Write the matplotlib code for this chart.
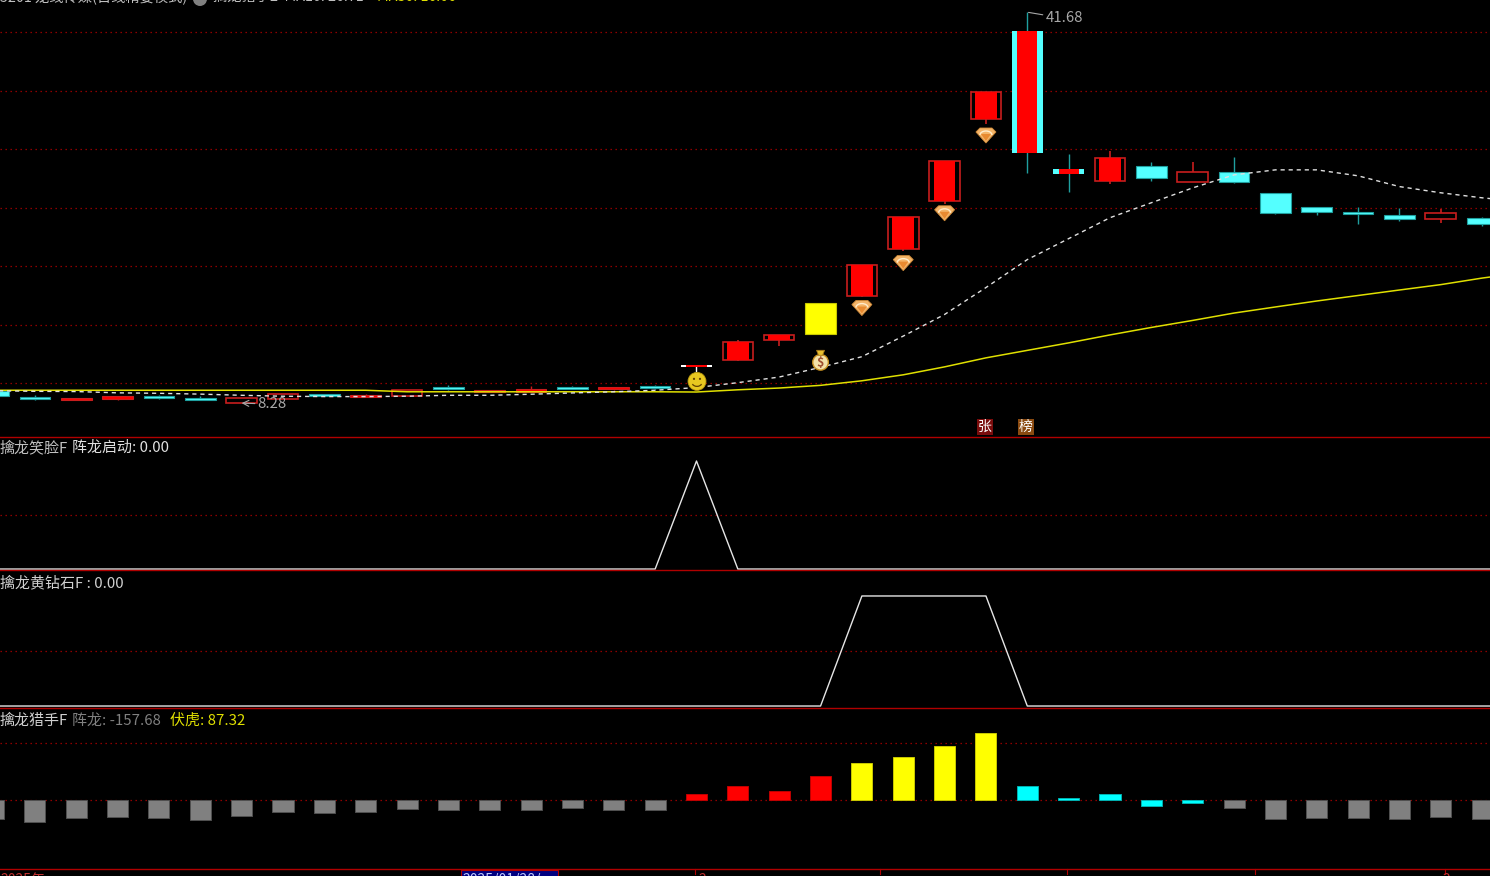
import matplotlib
matplotlib.use("Agg")
import matplotlib.pyplot as plt
from matplotlib.patches import Circle, Polygon, Rectangle, Arc

plt.rcParams['font.family'] = ['Noto Sans CJK SC', 'DejaVu Sans']
plt.rcParams['lines.scale_dashes'] = False

# bar index, first one is cut by the left edge
idx = list(range(-1, 36))
idx_ma = list(range(-1, 37))

tops = [9.29, 8.78, 8.76, 8.87, 8.87, 8.76, 8.72, 9.10, 9.10, 8.98, 9.38, 9.63, 9.38, 9.52, 9.63, 9.63, 9.72,
        11.51, 13.53, 14.09, 16.85, 20.12, 24.21, 28.99, 34.84, 40.07, 28.28, 29.22, 28.58, 28.02, 28.02,
        26.23, 25.06, 24.64, 24.32, 24.53, 24.10]
bottoms = [8.87, 8.64, 8.53, 8.64, 8.72, 8.53, 8.33, 8.67, 8.93, 8.84, 8.89, 9.49, 9.27, 9.27, 9.49, 9.49, 9.57,
           11.40, 12.00, 13.67, 14.21, 17.48, 21.48, 25.57, 32.57, 29.67, 27.90, 27.31, 27.51, 27.22, 27.22,
           24.53, 24.64, 24.44, 24.01, 24.01, 23.55]
highs = [9.29, 8.95, 8.76, 8.87, 8.98, 8.89, 8.72, 9.10, 9.10, 9.06, 9.38, 9.80, 9.38, 9.72, 9.74, 9.63, 9.83,
         11.51, 13.67, 14.09, 16.85, 20.12, 24.21, 28.99, 34.84, 41.68, 29.56, 29.86, 28.90, 28.90, 29.33,
         26.23, 25.06, 25.06, 24.95, 24.87, 24.21]
lows = [8.87, 8.53, 8.53, 8.53, 8.64, 8.53, 8.28, 8.67, 8.93, 8.84, 8.89, 9.40, 9.27, 9.27, 9.49, 9.38, 9.49,
        10.97, 11.88, 13.15, 14.21, 17.31, 21.31, 25.32, 32.11, 27.94, 26.37, 27.02, 27.28, 27.22, 27.11,
        24.41, 24.32, 23.55, 23.87, 23.70, 23.38]
kinds = ['c', 'c', 'r', 'r', 'c', 'c', 'h', 'h', 'c', 'r', 'h', 'c', 'r', 'r', 'c', 'r', 'c',
         'w', 'R', 'R', 'y', 'R', 'R', 'R', 'R', 'b', 'b', 'R', 'c', 'h', 'c', 'c', 'c', 'c', 'c', 'h', 'c']

ma_white = [9.34, 9.29, 9.27, 9.16, 9.12, 9.05, 8.95, 8.87, 8.84, 8.84, 8.87, 8.95, 8.95, 9.04, 9.15, 9.25, 9.38,
            9.61, 10.03, 10.51, 11.34, 12.25, 14.01, 15.86, 18.16, 20.55, 22.34, 24.13, 25.41, 26.68, 27.79,
            28.22, 28.22, 27.71, 26.79, 26.26, 25.83, 25.49]
ma_yellow = [9.38, 9.38, 9.38, 9.38, 9.38, 9.38, 9.38, 9.38, 9.38, 9.38, 9.25, 9.25, 9.25, 9.25, 9.25, 9.25, 9.25,
             9.23, 9.42, 9.57, 9.80, 10.19, 10.70, 11.38, 12.15, 12.79, 13.43, 14.11, 14.75, 15.35, 15.98,
             16.50, 17.01, 17.48, 17.95, 18.41, 18.97, 19.44]
price_grid = [10, 15, 20, 25, 30, 35, 40]

smile_flag = [0] * 17 + [1] + [0] * 20
diamond_flag = [0] * 21 + [1, 1, 1, 1] + [0] * 13

hunter = [-158, -180, -150, -136, -150, -161, -128, -98, -109, -98, -71, -79, -79, -79, -68, -79, -79,
          47, 117, 76, 199, 300, 351, 444, 545, 117, 14, 47, -47, -27, -68, -158, -150, -150, -158, -139, -158]
hunter_kinds = ['g'] * 17 + ['r'] * 4 + ['y'] * 4 + ['c'] * 5 + ['g'] * 7
hunter_grid = [0, 468]

time_ticks = [695, 880, 1067, 1255, 1445]

RED = "#ff0000"
RIM = "#c81e1e"
CYAN = "#54ffff"
TEAL = "#1f9f9f"
GRID = "#a00000"
W, H = 1490, 876


def panel(top, bottom, ymin, ymax):
    ax = fig.add_axes([0, 1 - bottom / H, 1, (bottom - top) / H])
    ax.set_xlim(-0.844, 35.19)
    ax.set_ylim(ymin, ymax)
    ax.axis('off')
    return ax


def hgrid(ax, vals):
    for v in vals:
        ax.axhline(v, color=GRID, lw=0.9, ls=(0, (1.0, 2.6)), zorder=1)


def diamond(cx, cy):
    ov.add_patch(Polygon([(cx - 10, cy - 3), (cx - 6, cy - 7), (cx + 6, cy - 7), (cx + 10, cy - 3), (cx, cy + 8)],
                         fc="#f4b468", ec="#d08a38", lw=0.6, zorder=9))
    ov.add_patch(Polygon([(cx - 5, cy - 1), (cx + 5, cy - 1), (cx, cy + 6)], fc="#e88a30", ec="none", zorder=10))
    ov.add_patch(Arc((cx, cy), 12, 8, theta1=180, theta2=360, color="#ffeccc", lw=1, zorder=11))


fig = plt.figure(figsize=(14.9, 8.76), dpi=100, facecolor="black")

# main candles
main = panel(0, 436, 5.47, 42.74)
hgrid(main, price_grid)
for i, t, b, hi, lo, k in zip(idx, tops, bottoms, highs, lows, kinds):
    if k == 'c':
        main.vlines(i, lo, hi, color=TEAL, lw=1, zorder=2)
        main.bar(i, t - b, bottom=b, width=0.74, color=CYAN, edgecolor=TEAL, lw=0.8, zorder=3)
    elif k == 'r':
        main.vlines(i, lo, hi, color=RIM, lw=1, zorder=2)
        main.bar(i, t - b, bottom=b, width=0.74, color=RED, edgecolor=RIM, lw=0.8, zorder=3)
    elif k == 'h':
        main.vlines(i, lo, hi, color=RIM, lw=1.2, zorder=2)
        main.bar(i, t - b, bottom=b, width=0.74, color="black", edgecolor=RIM, lw=1.2, zorder=3)
    elif k == 'R':
        main.vlines(i, lo, hi, color=RIM, lw=1.2, zorder=2)
        main.bar(i, t - b, bottom=b, width=0.74, color="black", edgecolor=RIM, lw=1.2, zorder=3)
        main.bar(i, t - b, bottom=b, width=0.52, color=RED, zorder=4)
    elif k == 'y':
        main.bar(i, t - b, bottom=b, width=0.74, color="#ffff00", edgecolor="#c8c800", lw=0.8, zorder=3)
    elif k == 'b':
        main.vlines(i, lo, hi, color=TEAL, lw=1, zorder=2)
        main.bar(i, t - b, bottom=b, width=0.74, color=CYAN, zorder=3)
        main.bar(i, t - b, bottom=b, width=0.49, color=RED, zorder=4)
    elif k == 'w':
        main.vlines(i, lo, hi, color="white", lw=1, zorder=2)
        main.bar(i, t - b, bottom=b, width=0.74, color="white", zorder=3)
        main.bar(i, t - b, bottom=b, width=0.5, color=RED, zorder=4)

main.plot(idx_ma, ma_yellow, color="#e0e000", lw=1.1, zorder=5)
main.plot(idx_ma, ma_white, color="#e0e0e0", lw=1, ls=(0, (3, 2.8)), zorder=6)

main.annotate("41.68", xy=(24.03, 41.68), xytext=(17, -6), textcoords='offset pixels', color="#a8a8a8",
              fontsize=10.8, va='center', ha='left', zorder=8,
              arrowprops=dict(arrowstyle='-', color="#a8a8a8", lw=0.8, shrinkA=0, shrinkB=0))
main.annotate("8.28", xy=(5, 8.28), xytext=(16, -1), textcoords='offset pixels', color="#a8a8a8",
              fontsize=10.8, va='center', ha='left', zorder=8,
              arrowprops=dict(arrowstyle='->', color="#a8a8a8", lw=0.8, shrinkA=0, shrinkB=0))

# sub panels
p1 = panel(437, 570, -0.009, 1.222)
hgrid(p1, [0.5])
p1.plot(idx_ma, smile_flag, color="#e6e6e6", lw=1, zorder=3)

p2 = panel(571, 708, -0.018, 1.227)
hgrid(p2, [0.5])
p2.plot(idx_ma, diamond_flag, color="#e6e6e6", lw=1, zorder=3)

p3 = panel(709, 869, -564, 743)
hgrid(p3, hunter_grid)
bar_cols = {'g': "#808080", 'r': RED, 'y': "#ffff00", 'c': "#00ffff"}
edge_cols = {'g': "#505050", 'r': "#c00000", 'y': "#c8c800", 'c': "#00b0b0"}
p3.bar(idx, hunter, width=0.51, color=[bar_cols[k] for k in hunter_kinds],
       edgecolor=[edge_cols[k] for k in hunter_kinds], lw=0.7, zorder=3)

# overlay in pixels: frames, captions, icons
ov = fig.add_axes([0, 0, 1, 1])
ov.set_xlim(0, W)
ov.set_ylim(H, 0)
ov.axis('off')
ov.patch.set_alpha(0)

for y in [436.5, 570, 708, 869]:
    ov.axhline(y, color="#b00000", lw=1)
for x in time_ticks:
    ov.plot([x, x], [869, 874], color="#b00000", lw=0.8)


def px(ax, i, p):
    return ov.transData.inverted().transform(ax.transData.transform((i, p)))


# smile
cx, cy = px(main, 16, 10.14)
ov.add_patch(Circle((cx + 0.5, cy), 9, fc="#e8c820", ec="#b89810", lw=0.6, zorder=9))
ov.add_patch(Circle((cx - 2.5, cy - 2.5), 1.1, fc="#604000", ec="none", zorder=10))
ov.add_patch(Circle((cx + 3.5, cy - 2.5), 1.1, fc="#604000", ec="none", zorder=10))
ov.add_patch(Arc((cx + 0.5, cy + 1), 10, 8, theta1=20, theta2=160, color="#604000", lw=0.9, zorder=10))

# money bag
cx, cy = px(main, 19, 11.94)
ov.add_patch(Circle((cx, cy + 2), 7.8, fc="#f4e2a8", ec="#c89020", lw=1, zorder=9))
ov.add_patch(Polygon([(cx - 4, cy - 10), (cx + 4, cy - 10), (cx + 2, cy - 5), (cx - 2, cy - 5)], fc="#e8c030",
                     ec="#a87818", lw=0.6, zorder=9))
ov.text(cx, cy + 2, "$", color="#a05030", fontsize=9, ha='center', va='center', fontweight='bold', zorder=10)

for i, p in zip([20, 21, 22, 23], [16.45, 20.29, 24.55, 31.2]):
    diamond(*px(main, i, p))

# tags above the first sub panel
ov.add_patch(Rectangle((977, 418.5), 16, 16, fc="#7a0c0c", ec="none"))
ov.add_patch(Rectangle((1018, 418.5), 16, 16, fc="#8a4a10", ec="none"))
ov.text(985, 426.5, "张", color="white", fontsize=10, ha='center', va='center')
ov.text(1026, 426.5, "榜", color="white", fontsize=10, ha='center', va='center')

# captions
fs = 10.8
ov.text(0, -3, "5201 龙线传媒(日线精要模式)", color="#c0c0c0", fontsize=10.3, va='center')
ov.add_patch(Circle((200, -1), 7, fc="#808080", ec="none"))
ov.text(213, -3, "擒龙猎手2  MA10: 26.71", color="#c0c0c0", fontsize=10.3, va='center')
ov.text(377, -3, "MA30: 16.06", color="#e0e000", fontsize=10.3, va='center')

ov.text(0, 448, "擒龙笑脸F", color="#c0c0c0", fontsize=fs, va='center')
ov.text(72, 448, "阵龙启动: 0.00", color="#e0e0e0", fontsize=fs, va='center')
ov.text(0, 582.5, "擒龙黄钻石F : 0.00", color="#d0d0d0", fontsize=fs, va='center')
ov.text(0, 720.5, "擒龙猎手F", color="#d0d0d0", fontsize=fs, va='center')
ov.text(72, 720.5, "阵龙: -157.68", color="#808080", fontsize=fs, va='center')
ov.text(170, 720.5, "伏虎: 87.32", color="#e0e000", fontsize=fs, va='center')

# bottom time axis, cut by the canvas edge
ov.add_patch(Rectangle((460.5, 870), 97, 8, fc="#000080", ec="#b00000", lw=0.8))
ov.text(462, 880, "2025/01/28/", color="#c0c8ff", fontsize=10, va='center', clip_on=True)
ov.text(0, 880, "2025年", color="#c03030", fontsize=10, va='center', clip_on=True)
ov.text(698, 880, "2", color="#c03030", fontsize=10, va='center', clip_on=True)
ov.text(1442, 880, "2", color="#c03030", fontsize=10, va='center', clip_on=True)

fig.savefig("out.png", dpi=100, facecolor="black")
